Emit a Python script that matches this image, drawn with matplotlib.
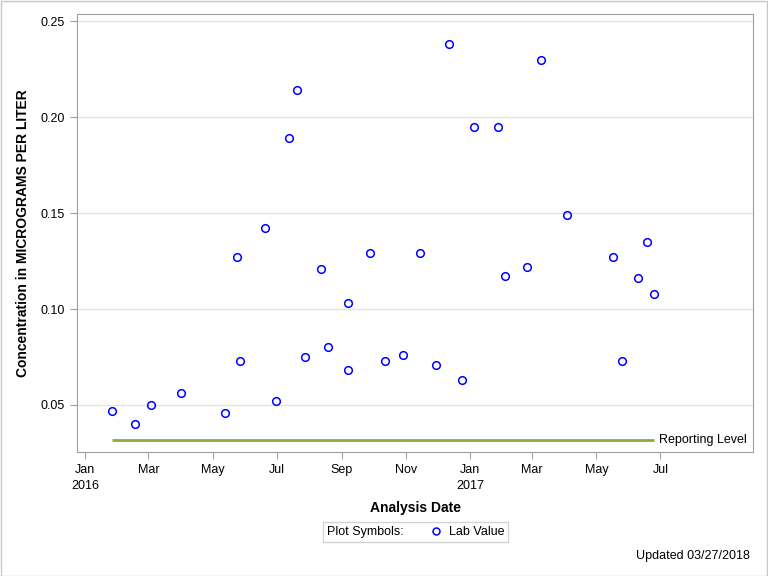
import numpy as np
import pandas as pd
import matplotlib
matplotlib.use("Agg")
import matplotlib.pyplot as plt
import matplotlib.dates as mdates
from matplotlib.patches import Rectangle
from matplotlib.lines import Line2D
from matplotlib.offsetbox import HPacker

plt.rcParams['font.family'] = ['Liberation Sans', 'DejaVu Sans']

# sample dates and lab values
dates = ["2016-01-26", "2016-02-17", "2016-03-03", "2016-04-01", "2016-05-13",
         "2016-05-24", "2016-05-27", "2016-06-20", "2016-06-30", "2016-07-13",
         "2016-07-20", "2016-07-28", "2016-08-12", "2016-08-19", "2016-09-07",
         "2016-09-07", "2016-09-28", "2016-10-12", "2016-10-29", "2016-11-14",
         "2016-11-29", "2016-12-12", "2016-12-24", "2017-01-05", "2017-01-27",
         "2017-02-03", "2017-02-24", "2017-03-09", "2017-04-03", "2017-05-17",
         "2017-05-25", "2017-06-10", "2017-06-18", "2017-06-25"]
values = [0.047, 0.040, 0.050, 0.056, 0.046,
          0.127, 0.073, 0.142, 0.052, 0.189,
          0.214, 0.075, 0.121, 0.080, 0.103,
          0.068, 0.129, 0.073, 0.076, 0.129,
          0.071, 0.238, 0.063, 0.195, 0.195,
          0.117, 0.122, 0.230, 0.149, 0.127,
          0.073, 0.116, 0.135, 0.108]
reporting_level = 0.032

tick_dates = ["2016-01-01", "2016-03-01", "2016-05-01", "2016-07-01", "2016-09-01",
              "2016-11-01", "2017-01-01", "2017-03-01", "2017-05-01", "2017-07-01"]
tick_labels = ["Jan\n2016", "Mar", "May", "Jul", "Sep", "Nov", "Jan\n2017", "Mar", "May", "Jul"]
y_ticks = [0.05, 0.10, 0.15, 0.20, 0.25]

dates = pd.to_datetime(dates)
tick_dates = pd.to_datetime(tick_dates)

fig = plt.figure(figsize=(7.68, 5.76), dpi=100)
ax = fig.add_axes([77 / 768, 1 - 452 / 576, 676 / 768, 438 / 576])

gray = "#a0a0a0"
ax.set_yticks(y_ticks)
ax.set_yticklabels(["%.2f" % v for v in y_ticks])
ax.yaxis.grid(True, color="#e4e4e4", linewidth=1)
ax.set_axisbelow(True)

ax.plot([dates[0], dates[-1]], [reporting_level, reporting_level],
        color="#8aa84a", linewidth=2, solid_capstyle="butt")
ax.text(dates[-1] + pd.Timedelta(days=5), reporting_level, "Reporting Level",
        va="center", ha="left", fontsize=9)

ax.plot(dates, values, linestyle="none", marker="o", markersize=5.5,
        markerfacecolor="none", markeredgecolor="blue", markeredgewidth=1.1)

ax.set_xticks(tick_dates)
ax.set_xticklabels(tick_labels, linespacing=1.5)
ax.set_xlim(pd.Timestamp("2015-12-24"), pd.Timestamp("2017-09-27"))
ax.set_ylim(0.0255, 0.2538)

for s in ax.spines.values():
    s.set_color(gray)
ax.tick_params(axis="both", colors=gray, labelcolor="black", labelsize=9, length=5)

ax.set_xlabel("Analysis Date", fontsize=10, fontweight="bold", labelpad=6)
ax.set_ylabel("Concentration in MICROGRAMS PER LITER", fontsize=10, fontweight="bold", labelpad=8)

# legend box
handle = Line2D([], [], linestyle="none", marker="o", markersize=5,
                markerfacecolor="none", markeredgecolor="blue", markeredgewidth=1.1)
leg = fig.legend([handle], ["Lab Value"], title="Plot Symbols:", loc="center",
                 bbox_to_anchor=(415.5 / 768, 1 - 532 / 576), fontsize=9,
                 title_fontsize=9, frameon=True, fancybox=False, borderpad=0.3,
                 handletextpad=0.4, handlelength=1.2)
leg.get_frame().set_edgecolor("#c8c8c8")
leg.get_frame().set_linewidth(1)
# put title on the same row as the entry
box = leg._legend_box
box._children = [HPacker(pad=0, sep=18, children=box._children, align="center")]

fig.text(750 / 768, 1 - 556 / 576, "Updated 03/27/2018", ha="right", va="center", fontsize=9)

fig.patches.append(Rectangle((0.5 / 768, 0.5 / 576), 1 - 1.5 / 768, 1 - 1.5 / 576,
                             transform=fig.transFigure, fill=False,
                             edgecolor="#c8c8c8", linewidth=1))

fig.savefig("out.png", dpi=100)
